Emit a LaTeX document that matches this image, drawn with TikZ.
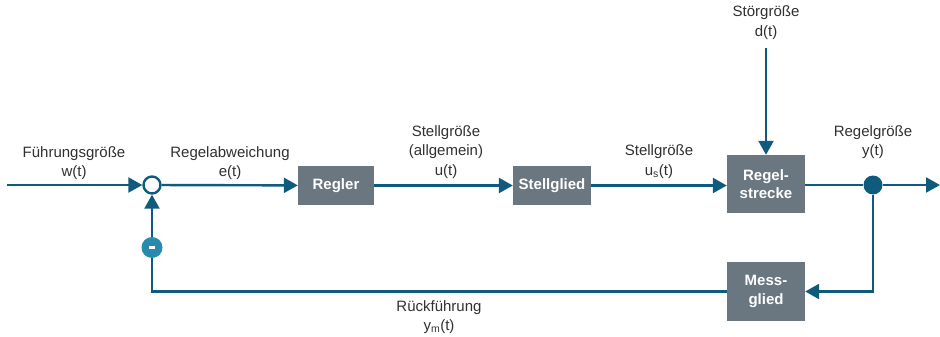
\documentclass[tikz,border=0pt]{standalone}
\usepackage{fontspec}
\setmainfont{Liberation Sans}
\usetikzlibrary{arrows.meta}
\definecolor{lineblue}{HTML}{0F5B7D}
\definecolor{boxgray}{HTML}{6B7780}
\definecolor{minusblue}{HTML}{2A8AAD}
\definecolor{txtgray}{HTML}{303030}
\tikzset{
  conn/.style={draw=lineblue, line width=2.4pt},
  arr/.style={conn, -{Triangle[length=14pt,width=15pt]}},
  blk/.style={fill=boxgray, text=white, font=\fontsize{15}{18.5}\selectfont\bfseries, align=center, inner sep=0pt},
  lbl/.style={text=txtgray, font=\fontsize{15}{19.5}\selectfont, align=center, inner sep=0pt},
}
\begin{document}
\begin{tikzpicture}[x=1pt,y=-1pt]
\useasboundingbox (0,0) rectangle (940,337);
% blocks
\node[blk, minimum width=76pt, minimum height=39pt] (regler) at (336,185.5) {Regler};
\node[blk, minimum width=78pt, minimum height=39pt] (stell) at (552,185.5) {Stellglied};
\node[blk, minimum width=78pt, minimum height=58pt] (strecke) at (766,184) {Regel-\\strecke};
\node[blk, minimum width=78pt, minimum height=59pt] (mess) at (766,291.5) {Mess-\\glied};
% junctions
\node[circle, draw=lineblue, line width=2.4pt, fill=white, minimum size=17pt, inner sep=0pt] (sum) at (152,185) {};
\node[circle, fill=lineblue, minimum size=19pt, inner sep=0pt] (dot) at (873,185) {};
\node[circle, fill=minusblue, minimum size=21pt, inner sep=0pt, text=white] (minus) at (152,247.5) {\raisebox{-1.75pt}{\rule{6pt}{3.5pt}}};
% coordinates
\coordinate (in) at (7,185);
\coordinate (out) at (940,185);
\coordinate (dtop) at (766,48);
\coordinate (fbr) at (873,291.5);
\coordinate (fbl) at (152,291.5);
% connectors
\draw[arr] (in) -- (sum);
\draw[arr] (sum) -- (regler);
\draw[arr] (regler) -- (stell);
\draw[arr] (stell) -- (strecke.west |- stell);
\draw[arr] (dtop) -- (strecke);
\draw[conn] (strecke.east |- dot) -- (dot);
\draw[arr] (dot) -- (out);
\draw[arr] (dot) -- (fbr) -- (mess.east |- fbr);
\draw[conn] (mess.west |- fbl) -- (fbl) -- (minus);
\draw[arr] (minus) -- (sum);
% labels
\node[lbl] (lw) at (74,163) {Führungsgröße\\w(t)};
\node[lbl] (le) at (230,163) {Regelabweichung\\e(t)};
\node[lbl] (lu) at (446,152) {Stellgröße\\(allgemein)\\u(t)};
\node[lbl] (lus) at (659,161.5) {Stellgröße\\u\textsubscript{s}(t)};
\node[lbl] (ld) at (766,22.5) {Störgröße\\d(t)};
\node[lbl] (ly) at (873,142) {Regelgröße\\y(t)};
\node[lbl] (lym) at (439,317) {Rückführung\\y\textsubscript{m}(t)};
\end{tikzpicture}
\end{document}
